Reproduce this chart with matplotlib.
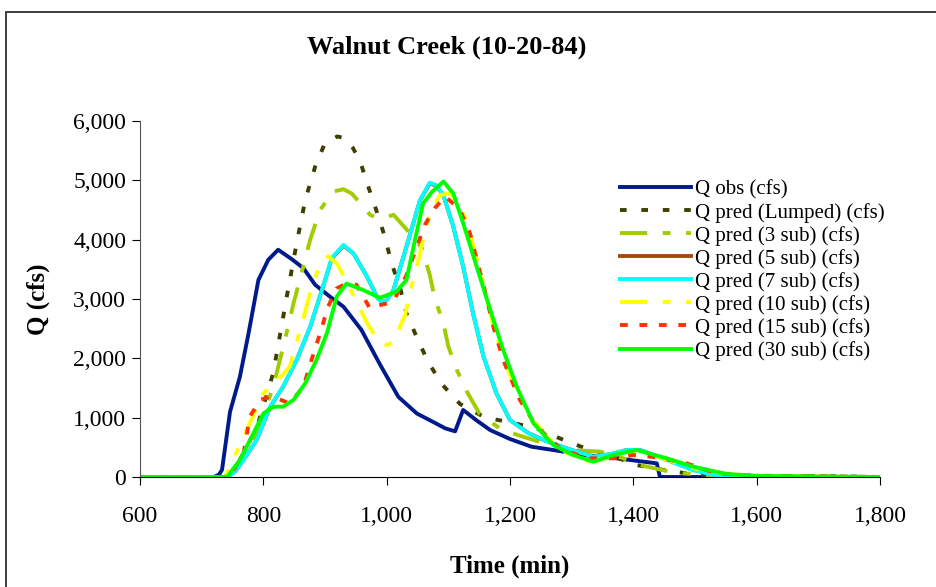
import matplotlib.pyplot as plt
from matplotlib.patches import Rectangle

# hydrograph readings (time in min, discharge in cfs)
t_obs = [600, 720, 728, 733, 746, 762, 776, 792, 808, 824, 845, 865, 884, 908, 930, 959, 989,
         1019, 1049, 1075, 1095, 1111, 1124, 1145, 1168, 1200, 1235, 1270, 1320, 1360, 1400,
         1438, 1443, 1450, 1800]
q_obs = [0, 0, 40, 120, 1100, 1690, 2420, 3320, 3660, 3830, 3680, 3520, 3240, 3040, 2870, 2480, 1900,
         1350, 1070, 930, 820, 770, 1130, 960, 790, 640, 510, 455, 370, 330, 280,
         230, 5, 0, 0]

t_lump = [600, 735, 750, 762, 790, 816, 838, 854, 868, 884, 900, 920, 932, 945, 957, 970, 984, 997,
          1008, 1022, 1032, 1049, 1067, 1089, 1119, 1160, 1197, 1243, 1281, 1322, 1362, 1405, 1449,
          1500, 1600, 1750, 1800]
q_lump = [0, 0, 100, 287, 850, 1750, 3040, 3940, 4670, 5230, 5630, 5740, 5710, 5550, 5320, 4900, 4470, 4050,
          3600, 3180, 2760, 2350, 1945, 1570, 1230, 1000, 930, 820, 650, 484, 371, 202, 118,
          40, 20, 10, 0]

t_3 = [600, 740, 760, 789, 816, 835, 849, 862, 876, 892, 913, 930, 943, 962, 973, 986, 1000, 1011,
       1030, 1057, 1070, 1078, 1092, 1100, 1114, 1130, 1151, 1187, 1227, 1265, 1302, 1346, 1380,
       1411, 1450, 1481, 1550, 1800]
q_3 = [0, 0, 200, 737, 1520, 2310, 2930, 3435, 4000, 4500, 4810, 4850, 4780, 4560, 4420, 4360, 4380, 4420,
       4200, 3860, 3400, 3010, 2590, 2200, 1800, 1440, 1060, 793, 660, 540, 455, 427, 330,
       200, 110, 62, 0, 0]

t_5 = [600, 742, 755, 768, 789, 811, 832, 854, 876, 895, 911, 930, 946, 968, 985, 992, 1000, 1011,
       1032, 1054, 1070, 1080, 1092, 1108, 1124, 1140, 1157, 1178, 1200, 1230, 1260, 1292, 1335,
       1365, 1389, 1411, 1454, 1497, 1530, 1575, 1800]
q_5 = [0, 0, 100, 290, 620, 1180, 1520, 1970, 2530, 3150, 3680, 3900, 3770, 3380, 3020, 2950, 2980, 3150,
       3880, 4660, 4950, 4910, 4750, 4220, 3550, 2760, 2030, 1410, 960, 740, 600, 484, 342,
       390, 455, 455, 290, 120, 40, 5, 0]

t_7 = [600, 742, 755, 768, 789, 811, 832, 854, 876, 895, 911, 930, 946, 968, 985, 992, 1000, 1011,
       1032, 1054, 1070, 1080, 1092, 1108, 1124, 1140, 1157, 1178, 1200, 1230, 1260, 1292, 1335,
       1365, 1389, 1411, 1454, 1497, 1530, 1560, 1800]
q_7 = [0, 0, 100, 287, 624, 1185, 1520, 1970, 2535, 3150, 3690, 3910, 3770, 3380, 3020, 2950, 2980, 3150,
       3880, 4670, 4960, 4920, 4750, 4220, 3545, 2760, 2030, 1410, 960, 737, 600, 484, 342,
       390, 455, 455, 287, 118, 34, 0, 0]

t_10 = [600, 738, 751, 773, 800, 820, 843, 860, 876, 892, 905, 919, 935, 951, 970, 986, 1000, 1011,
        1030, 1040, 1049, 1059, 1068, 1086, 1103, 1119, 1133, 1151, 1162, 1173, 1189, 1205, 1235,
        1262, 1292, 1324, 1368, 1400, 1422, 1465, 1508, 1562, 1620, 1800]
q_10 = [0, 0, 287, 790, 1410, 1600, 1860, 2500, 3100, 3600, 3720, 3600, 3300, 2950, 2560, 2300, 2220, 2280,
        2730, 3210, 3545, 4000, 4360, 4750, 4780, 4590, 4190, 3490, 3040, 2535, 2030, 1580, 990,
        650, 400, 270, 340, 420, 400, 258, 118, 45, 10, 0]

t_15 = [600, 745, 768, 778, 795, 811, 828, 843, 865, 878, 892, 905, 919, 935, 951, 973, 990, 1003,
        1011, 1032, 1049, 1062, 1078, 1095, 1119, 1135, 1146, 1157, 1173, 1189, 1216, 1243, 1281,
        1324, 1368, 1400, 1440, 1486, 1535, 1600, 1700, 1800]
q_15 = [0, 0, 400, 1017, 1300, 1354, 1300, 1240, 1520, 1970, 2420, 2870, 3180, 3260, 3240, 2840, 2900, 2930,
        2960, 3400, 3880, 4250, 4530, 4730, 4500, 4110, 3660, 3240, 2535, 1970, 1300, 848, 484,
        315, 315, 371, 330, 231, 62, 20, 15, 0]

t_30 = [600, 741, 762, 784, 800, 816, 832, 849, 868, 886, 903, 919, 935, 962, 989, 1016, 1032, 1046,
        1059, 1073, 1092, 1108, 1124, 1146, 1168, 1189, 1211, 1238, 1270, 1302, 1335, 1368, 1405,
        1454, 1497, 1551, 1605, 1800]
q_30 = [0, 0, 287, 737, 1070, 1185, 1185, 1300, 1580, 1970, 2420, 3040, 3260, 3150, 3020, 3125, 3320, 4000,
        4610, 4800, 4980, 4780, 4280, 3545, 2815, 2140, 1520, 905, 540, 371, 258, 371, 455,
        315, 174, 50, 17, 0]

plt.rcParams['font.family'] = ['Liberation Serif', 'DejaVu Serif']

fig = plt.figure(figsize=(9.36, 5.87), dpi=100)
ax = fig.add_axes([140 / 936, 1 - 477 / 587, 740 / 936, 356 / 587])

lw = 2.8
ax.plot(t_obs, q_obs, color='#001a8c', lw=lw, label='Q obs (cfs)')
ax.plot(t_lump, q_lump, color='#3f3f00', lw=lw, dashes=(1.7, 3.8), label='Q pred (Lumped) (cfs)')
ax.plot(t_3, q_3, color='#a0cc00', lw=lw, dashes=(7, 4, 2, 4), label='Q pred (3 sub) (cfs)')
ax.plot(t_5, q_5, color='#a84a10', lw=lw, label='Q pred (5 sub) (cfs)')
ax.plot(t_7, q_7, color='#00ffff', lw=lw, label='Q pred (7 sub) (cfs)')
ax.plot(t_10, q_10, color='#ffff00', lw=lw, dashes=(7, 4, 2, 4), label='Q pred (10 sub) (cfs)')
ax.plot(t_15, q_15, color='#ff3300', lw=lw, dashes=(2, 3), label='Q pred (15 sub) (cfs)')
ax.plot(t_30, q_30, color='#00ff00', lw=lw, label='Q pred (30 sub) (cfs)')

ax.set_xlim(600, 1800)
ax.set_ylim(0, 6000)
ax.set_xticks(range(600, 1801, 200))
ax.set_yticks(range(0, 6001, 1000))
ax.xaxis.set_major_formatter(plt.FuncFormatter(lambda v, p: f'{int(v):,}'))
ax.yaxis.set_major_formatter(plt.FuncFormatter(lambda v, p: f'{int(v):,}'))
ax.tick_params(axis='both', labelsize=17, length=6, direction='out', color='black')
ax.tick_params(axis='x', pad=15)
ax.tick_params(axis='y', pad=4)
for s in ['top', 'right']:
    ax.spines[s].set_visible(False)
ax.spines['left'].set_color('#555555')

ax.set_xlabel('Time (min)', fontsize=18, fontweight='bold', labelpad=20)
ax.set_ylabel('Q (cfs)', fontsize=18, fontweight='bold', labelpad=17)
fig.text(447 / 936, 1 - 47 / 587, 'Walnut Creek (10-20-84)', fontsize=19, fontweight='bold',
         ha='center', va='center')

ax.legend(loc='upper left', bbox_to_anchor=(620 / 936, 1 - 180 / 587), bbox_transform=fig.transFigure,
          frameon=False, fontsize=15, handlelength=3.4, handletextpad=0.2, labelspacing=0.15,
          borderpad=0, borderaxespad=0)

fig.patches.append(Rectangle((6 / 936, -0.05), 1.0, 1.05 - 12 / 587, transform=fig.transFigure,
                             fill=False, edgecolor='#303030', lw=1.3))

fig.savefig('out.png', dpi=100)
